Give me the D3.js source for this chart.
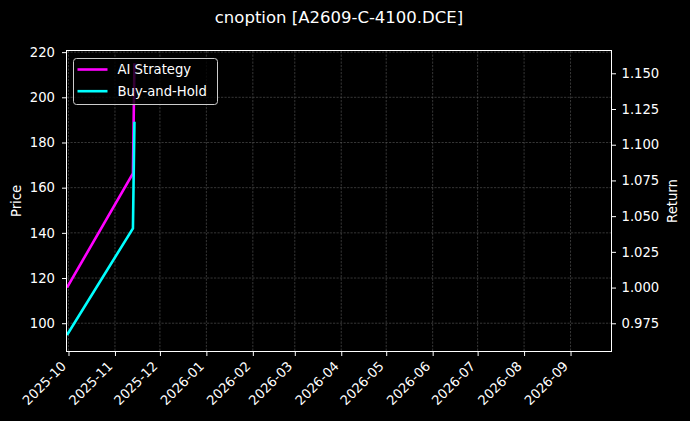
<!DOCTYPE html>
<html>
<head>
<meta charset="utf-8">
<script src="https://d3js.org/d3.v7.min.js"></script>
<style>
  html, body { margin: 0; padding: 0; background: #000; }
  svg text { font-family: "DejaVu Sans", sans-serif; fill: #fff; }
</style>
</head>
<body>
<div id="chart"></div>
<script>
// values
const dates = ["2025-09-30", "2025-11-13", "2025-11-14"];
const aiReturn = [1.0, 1.080, 1.157];      // right axis (Return)
const buyHoldPrice = [94.8, 142.0, 189.2]; // left axis (Price)
const priceTicks = [100, 120, 140, 160, 180, 200, 220];
const returnTicks = [0.975, 1.0, 1.025, 1.05, 1.075, 1.1, 1.125, 1.15];
const monthTicks = ["2025-10", "2025-11", "2025-12", "2026-01", "2026-02", "2026-03",
                    "2026-04", "2026-05", "2026-06", "2026-07", "2026-08", "2026-09"];
const xRange = ["2025-09-30", "2026-09-28"];
const priceRange = [87.7, 220.5];
const returnRange = [0.9556, 1.1656];

const width = 690;
const height = 421;
const margin = {top: 51, right: 79, bottom: 70, left: 67};
const fontSize = 13.2;

const parse = d3.timeParse("%Y-%m-%d");
const parseMonth = d3.timeParse("%Y-%m");

const svg = d3.select("#chart")
  .append("svg")
  .attr("width", width)
  .attr("height", height)
  .style("background", "#000");

const x = d3.scaleTime()
  .domain(xRange.map(parse))
  .range([margin.left, width - margin.right]);

const yPrice = d3.scaleLinear()
  .domain(priceRange)
  .range([height - margin.bottom, margin.top]);

const yReturn = d3.scaleLinear()
  .domain(returnRange)
  .range([height - margin.bottom, margin.top]);

const plotW = width - margin.left - margin.right;
const plotH = height - margin.top - margin.bottom;

// grid
const grid = svg.append("g")
  .attr("stroke", "#5a5a5a")
  .attr("stroke-width", 0.6)
  .attr("stroke-dasharray", "2.2,1.3");

grid.selectAll(".vg")
  .data(monthTicks.map(parseMonth))
  .join("line")
    .attr("x1", d => x(d)).attr("x2", d => x(d))
    .attr("y1", margin.top).attr("y2", height - margin.bottom);

grid.selectAll(".hg")
  .data(priceTicks)
  .join("line")
    .attr("x1", margin.left).attr("x2", width - margin.right)
    .attr("y1", d => yPrice(d)).attr("y2", d => yPrice(d));

// lines
const aiLine = d3.line()
  .x((d, i) => x(parse(dates[i])))
  .y(d => yReturn(d));

const bhLine = d3.line()
  .x((d, i) => x(parse(dates[i])))
  .y(d => yPrice(d));

svg.append("clipPath").attr("id", "plot-clip")
  .append("rect")
  .attr("x", margin.left).attr("y", margin.top)
  .attr("width", plotW).attr("height", plotH);

svg.append("path")
  .datum(aiReturn)
  .attr("clip-path", "url(#plot-clip)")
  .attr("fill", "none")
  .attr("stroke", "#ff00ff")
  .attr("stroke-width", 2.6)
  .attr("d", aiLine);

svg.append("path")
  .datum(buyHoldPrice)
  .attr("clip-path", "url(#plot-clip)")
  .attr("fill", "none")
  .attr("stroke", "#00ffff")
  .attr("stroke-width", 2.6)
  .attr("d", bhLine);

// axes
const xAxis = d3.axisBottom(x)
  .tickValues(monthTicks.map(parseMonth))
  .tickFormat(d3.timeFormat("%Y-%m"))
  .tickSize(5)
  .tickPadding(3);

const gx = svg.append("g")
  .attr("transform", `translate(0,${height - margin.bottom})`)
  .call(xAxis);

gx.selectAll("text")
  .attr("font-size", fontSize)
  .attr("text-anchor", "end")
  .attr("dy", null)
  .attr("y", null)
  .attr("transform", "translate(-2,16) rotate(-45)");

const yAxisL = d3.axisLeft(yPrice)
  .tickValues(priceTicks)
  .tickSize(5)
  .tickPadding(7);

const gl = svg.append("g")
  .attr("transform", `translate(${margin.left},0)`)
  .call(yAxisL);
gl.selectAll("text").attr("font-size", fontSize);

const yAxisR = d3.axisRight(yReturn)
  .tickValues(returnTicks)
  .tickFormat(d3.format(".3f"))
  .tickSize(5)
  .tickPadding(5.5);

const gr = svg.append("g")
  .attr("transform", `translate(${width - margin.right},0)`)
  .call(yAxisR);
gr.selectAll("text").attr("font-size", fontSize);

[gx, gl, gr].forEach(g => {
  g.select(".domain").remove();
  g.selectAll(".tick line").attr("stroke", "#fff").attr("stroke-width", 1);
});

// frame
svg.append("rect")
  .attr("x", margin.left - 0.5).attr("y", margin.top - 0.5)
  .attr("width", plotW + 1).attr("height", plotH + 1)
  .attr("fill", "none")
  .attr("stroke", "#fff")
  .attr("stroke-width", 1.2)
  .attr("shape-rendering", "crispEdges");

// axis labels
svg.append("text")
  .attr("transform", `translate(21,${margin.top + plotH / 2}) rotate(-90)`)
  .attr("text-anchor", "middle")
  .attr("font-size", fontSize)
  .text("Price");

svg.append("text")
  .attr("transform", `translate(677,${margin.top + plotH / 2}) rotate(-90)`)
  .attr("text-anchor", "middle")
  .attr("font-size", fontSize)
  .text("Return");

// title
svg.append("text")
  .attr("x", margin.left + plotW / 2)
  .attr("y", 23)
  .attr("text-anchor", "middle")
  .attr("font-size", 16.5)
  .text("cnoption [A2609-C-4100.DCE]");

// legend
const legendItems = [
  {name: "AI Strategy", color: "#ff00ff"},
  {name: "Buy-and-Hold", color: "#00ffff"}
];

const legend = svg.append("g").attr("transform", "translate(73.5,58.5)");

legend.append("rect")
  .attr("width", 144)
  .attr("height", 46)
  .attr("rx", 3)
  .attr("fill", "#000")
  .attr("fill-opacity", 0.8)
  .attr("stroke", "#ccc")
  .attr("stroke-width", 1);

const li = legend.selectAll(".item")
  .data(legendItems)
  .join("g")
    .attr("transform", (d, i) => `translate(0,${11 + i * 21.7})`);

li.append("line")
  .attr("x1", 4).attr("x2", 34)
  .attr("stroke", d => d.color)
  .attr("stroke-width", 2.6);

li.append("text")
  .attr("x", 44)
  .attr("dy", "0.36em")
  .attr("font-size", fontSize)
  .text(d => d.name);
</script>
</body>
</html>
